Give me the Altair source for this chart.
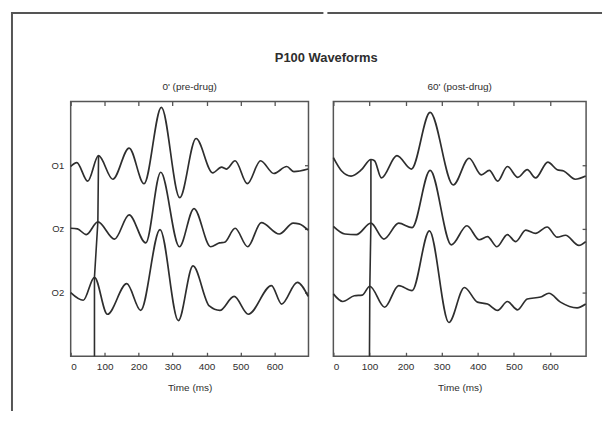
import altair as alt
import pandas as pd

FONT = "Liberation Sans"
INK = "#2e2e2e"
FRAME = "#555555"

TITLE = "P100 Waveforms"
PANELS = ["0' (pre-drug)", "60' (post-drug)"]
CHANNELS = ["O1", "Oz", "O2"]
LEVEL = {"O1": 3, "Oz": 2, "O2": 1}
XTICKS = [0, 100, 200, 300, 400, 500, 600]

# ---- 0' (pre-drug) ----
PRE_O1_T = [0, 18, 50, 82, 124, 172, 216, 267, 321, 369, 418, 444, 458, 484, 520, 559, 598, 636, 657, 699]
PRE_O1_A = [-0.02, 0.04, -0.25, 0.15, -0.22, 0.27, -0.29, 0.91, -0.51, 0.42, -0.12, -0.03, -0.06, 0.07, -0.29, 0.07, -0.13, -0.02, -0.10, -0.06]

PRE_OZ_T = [0, 20, 46, 80, 129, 172, 221, 265, 320, 363, 412, 438, 453, 484, 521, 561, 614, 655, 672, 699]
PRE_OZ_A = [0.01, 0.00, -0.09, 0.11, -0.16, 0.22, -0.22, 0.89, -0.28, 0.32, -0.28, -0.22, -0.21, 0.01, -0.28, 0.10, -0.08, 0.09, 0.08, -0.02]

PRE_O2_T = [0, 37, 70, 108, 165, 206, 263, 317, 360, 408, 439, 481, 523, 591, 621, 667, 699]
PRE_O2_A = [0.00, -0.12, 0.24, -0.34, 0.14, -0.28, 0.99, -0.44, 0.42, -0.21, -0.28, -0.06, -0.34, 0.11, -0.18, 0.16, -0.06]

# ---- 60' (post-drug) ----
POST_O1_T = [0, 23, 49, 78, 104, 114, 133, 176, 216, 268, 332, 376, 410, 432, 455, 482, 511, 537, 560, 594, 620, 638, 670, 699]
POST_O1_A = [0.12, -0.09, -0.17, -0.07, 0.09, 0.07, -0.20, 0.15, -0.06, 0.83, -0.31, 0.11, -0.15, -0.08, -0.25, -0.02, -0.19, -0.07, -0.20, 0.05, -0.07, -0.09, -0.22, -0.17]

POST_OZ_T = [0, 32, 64, 104, 140, 181, 218, 268, 327, 370, 404, 427, 453, 482, 505, 533, 560, 592, 620, 643, 680, 699]
POST_OZ_A = [0.04, -0.08, -0.09, 0.09, -0.16, 0.09, 0.02, 0.92, -0.25, 0.05, -0.17, -0.12, -0.28, -0.09, -0.20, -0.02, -0.07, 0.03, -0.13, -0.10, -0.26, -0.20]

POST_O2_T = [0, 26, 58, 80, 101, 142, 181, 218, 266, 320, 363, 399, 427, 455, 482, 510, 537, 574, 597, 629, 675, 699]
POST_O2_A = [-0.02, -0.14, -0.05, -0.04, 0.10, -0.23, 0.11, 0.03, 0.97, -0.47, 0.08, -0.15, -0.18, -0.28, -0.14, -0.27, -0.10, -0.07, -0.01, -0.15, -0.24, -0.18]

# P100 latency markers (from O1 peak down to the time axis)
MARK_PRE_T = [82, 80, 70, 70]
MARK_PRE_V = [3.15, 2.11, 1.24, 0.0]
MARK_POST_T = [104, 104, 101, 100]
MARK_POST_V = [3.09, 2.09, 1.10, 0.0]


def traces(series):
    rows = []
    for ch, ts, amps in series:
        for t, a in zip(ts, amps):
            rows.append({"ch": ch, "t": t, "v": LEVEL[ch] + a})
    return pd.DataFrame(rows)


def marker(ts, vs):
    return pd.DataFrame({"t": ts, "v": vs, "order": list(range(len(ts)))})


pre_df = traces([("O1", PRE_O1_T, PRE_O1_A), ("Oz", PRE_OZ_T, PRE_OZ_A), ("O2", PRE_O2_T, PRE_O2_A)])
post_df = traces([("O1", POST_O1_T, POST_O1_A), ("Oz", POST_OZ_T, POST_OZ_A), ("O2", POST_O2_T, POST_O2_A)])
pre_mk = marker(MARK_PRE_T, MARK_PRE_V)
post_mk = marker(MARK_POST_T, MARK_POST_V)

XS = alt.Scale(domain=[0, 700], nice=False, zero=False)
YS = alt.Scale(domain=[0, 4], nice=False, zero=False)

label_expr = "datum.value == 3 ? 'O1' : (datum.value == 2 ? 'Oz' : 'O2')"


def panel(df, mk, title, width, show_labels, frame_rules):
    y_axis = (
        alt.Axis(orient="left", values=[1, 2, 3], labelExpr=label_expr, ticks=False, tickSize=0,
                 labelPadding=7, domain=False, grid=False, title=None, labelFontSize=9.5)
        if show_labels else None
    )
    lines = alt.Chart(df).mark_line(interpolate="monotone", color=INK, strokeWidth=1.7).encode(
        x=alt.X("t:Q", scale=XS, axis=alt.Axis(orient="bottom", values=XTICKS, title="Time (ms)",
                                                offset=-4, tickSize=4, domain=False, grid=False,
                                                labelPadding=5, titlePadding=11)),
        y=alt.Y("v:Q", scale=YS, axis=y_axis),
        detail="ch:N",
    )
    mline = alt.Chart(mk).mark_line(color=INK, strokeWidth=1.6).encode(
        x=alt.X("t:Q", scale=XS, axis=alt.Axis(orient="top", values=XTICKS, labels=False, offset=-4,
                                                tickSize=4, domain=False, grid=False, title=None)),
        y=alt.Y("v:Q", scale=YS, axis=alt.Axis(orient="right", values=[1, 2, 3], labels=False, offset=-4,
                                                tickSize=4, domain=False, grid=False, title=None)),
        order=alt.Order("order:Q"),
    )
    layers = [lines, mline]
    for enc in frame_rules:
        layers.append(
            alt.Chart(alt.Data(values=[{"k": 0}]))
            .mark_rule(color=FRAME, strokeWidth=2, strokeCap="square")
            .encode(**enc)
        )
    return (
        alt.layer(*layers)
        .resolve_axis(x="independent", y="independent")
        .properties(
            width=width,
            height=256,
            title=alt.TitleParams(title, frame="group", anchor="middle", baseline="alphabetic",
                                  offset=-89, fontSize=10, fontWeight="normal", font=FONT, color=INK),
        )
    )


left = panel(
    pre_df, pre_mk, PANELS[0], 239, True,
    [
        {"x": alt.value(-59), "x2": alt.value(253), "y": alt.value(-89)},
        {"x": alt.value(-59), "y": alt.value(-89), "y2": alt.value(310)},
    ],
)
right = panel(
    post_df, post_mk, PANELS[1], 254, False,
    [{"x": alt.value(-5), "x2": alt.value(269), "y": alt.value(-89)}],
)

chart = (
    alt.hconcat(left, right, spacing=0)
    .properties(
        title=alt.TitleParams(TITLE, anchor="start", align="center", dx=318, offset=-64,
                              baseline="alphabetic", fontSize=13, fontWeight="bold", font=FONT, color=INK),
        padding={"left": 1, "top": 1, "right": 0, "bottom": 0},
    )
    .configure_view(stroke=FRAME, strokeWidth=1.5)
    .configure_axis(
        tickColor=FRAME, tickWidth=1.3, labelFont=FONT, labelFontSize=10, labelColor=INK,
        titleFont=FONT, titleFontSize=10, titleFontWeight="normal", titleColor=INK,
    )
)

chart.save("out.html", embed_options={"renderer": "svg", "actions": False})
